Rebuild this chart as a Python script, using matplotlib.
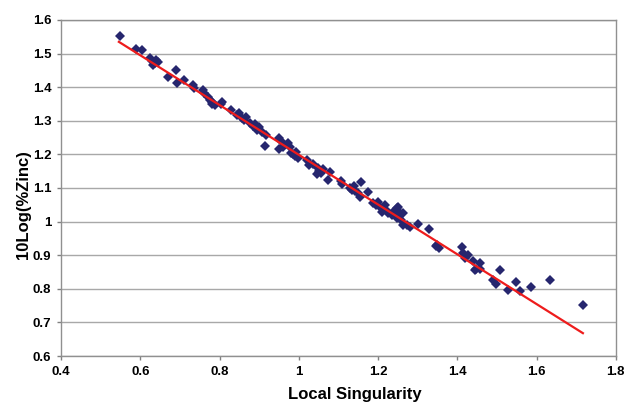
import matplotlib
matplotlib.use('Agg')
from matplotlib import pyplot as plt
import numpy as np

# local singularity vs 10*log(% zinc) for each sample
singularity = [
  0.549, 0.588, 0.604, 0.624, 0.630, 0.636, 0.640, 0.645, 0.633,
  0.671, 0.690, 0.692, 0.710, 0.733, 0.736, 0.758, 0.762,
  0.770, 0.776, 0.782, 0.788, 0.780, 0.806, 0.803,
  0.828, 0.843, 0.850, 0.856, 0.862, 0.866,
  0.878, 0.884, 0.890, 0.895, 0.900, 0.906,
  0.917, 0.915, 0.950, 0.955, 0.973, 0.978, 0.951, 0.960,
  0.980, 0.985, 0.990, 0.998, 0.994,
  1.020, 1.025, 1.035, 1.048, 1.052, 1.056, 1.060, 1.045,
  1.078, 1.073, 1.106, 1.110, 1.130, 1.135, 1.142, 1.150, 1.155, 1.158, 1.174, 1.140,
  1.188, 1.196, 1.200, 1.205, 1.209, 1.213, 1.217, 1.221, 1.226, 1.234,
  1.238, 1.247, 1.251, 1.255, 1.247, 1.259, 1.263, 1.263, 1.272, 1.280,
  1.301, 1.328, 1.346, 1.354, 1.350,
  1.411, 1.415, 1.419, 1.427, 1.440, 1.457, 1.448, 1.444, 1.457,
  1.509, 1.490, 1.498, 1.528, 1.548, 1.558, 1.586, 1.635, 1.717,
]
zinc_log = [
  1.553, 1.514, 1.511, 1.488, 1.478, 1.472, 1.482, 1.476, 1.466,
  1.429, 1.451, 1.412, 1.421, 1.408, 1.398, 1.392, 1.382,
  1.372, 1.363, 1.356, 1.348, 1.350, 1.357, 1.350,
  1.332, 1.316, 1.322, 1.308, 1.303, 1.310,
  1.293, 1.285, 1.290, 1.272, 1.282, 1.268,
  1.258, 1.225, 1.250, 1.240, 1.234, 1.222, 1.215, 1.222,
  1.205, 1.200, 1.196, 1.190, 1.208,
  1.183, 1.168, 1.172, 1.160, 1.150, 1.145, 1.158, 1.142,
  1.149, 1.124, 1.122, 1.112, 1.100, 1.095, 1.090, 1.085, 1.073, 1.119, 1.089, 1.105,
  1.054, 1.049, 1.059, 1.044, 1.029, 1.040, 1.049, 1.035, 1.025, 1.020,
  1.030, 1.040, 1.044, 1.025, 1.010, 1.005, 1.025, 0.990, 0.990, 0.985,
  0.992, 0.978, 0.927, 0.922, 0.930,
  0.925, 0.906, 0.891, 0.901, 0.883, 0.876, 0.860, 0.856, 0.858,
  0.855, 0.826, 0.815, 0.795, 0.820, 0.793, 0.805, 0.825, 0.752,
]

# linear trend line endpoints
trend_x = [0.546, 1.717]
trend_y = [1.535, 0.668]


def main():
  plt.rcParams['font.family'] = ['Liberation Sans', 'DejaVu Sans']
  fig = plt.figure(figsize=(6.29, 4.03), dpi=100)
  ax = fig.add_axes([0.097, 0.1166, 0.882, 0.8338])

  ax.grid(True, axis='y', color='#a8a8a8', linewidth=1.0)
  ax.set_axisbelow(True)

  ax.plot(singularity, zinc_log, 'D', color='#26266e', markersize=4.6,
          markeredgewidth=0, zorder=3)
  ax.plot(trend_x, trend_y, '-', color='#ee1c1c', linewidth=1.6, zorder=4)

  ax.set_xlim(0.4, 1.8)
  ax.set_ylim(0.6, 1.6)
  ax.set_xticks(np.arange(0.4, 1.81, 0.2))
  ax.set_yticks(np.arange(0.6, 1.61, 0.1))
  ax.set_xticklabels(['0.4', '0.6', '0.8', '1', '1.2', '1.4', '1.6', '1.8'])
  ax.set_yticklabels(['0.6', '0.7', '0.8', '0.9', '1', '1.1', '1.2',
                      '1.3', '1.4', '1.5', '1.6'])
  ax.tick_params(direction='out', length=3, width=1, color='#808080',
                 labelsize=9.5, pad=4)
  for lbl in ax.get_xticklabels() + ax.get_yticklabels():
    lbl.set_fontweight('bold')

  for side in ['left', 'bottom', 'right', 'top']:
    ax.spines[side].set_color('#909090')
    ax.spines[side].set_linewidth(1.0)

  # axis titles sit where the spreadsheet put them, the y one over the ticks
  ax.set_xlabel('Local Singularity', fontsize=12, fontweight='bold')
  ax.xaxis.set_label_coords(0.53, -0.092)
  ax.set_ylabel('10Log(%Zinc)', fontsize=12, fontweight='bold', va='center')
  ax.yaxis.set_label_coords(-0.068, 0.452)

  fig.savefig('out.png', dpi=100)


if __name__ == '__main__':
  main()
